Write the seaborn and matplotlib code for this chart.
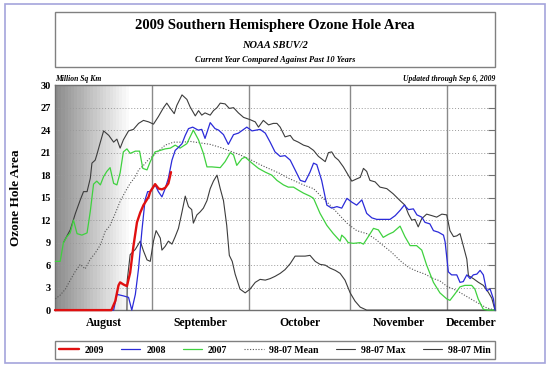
import numpy as np
import matplotlib
matplotlib.use("Agg")
import matplotlib.pyplot as plt
import seaborn as sns
from matplotlib.patches import Rectangle

# Eje x: dia contado desde el 1 de agosto (1 ago = 1, 1 sep = 32, ...)
dias_2009 = [2, 19.4, 20.6, 21.6, 22.1, 23.2, 24.2, 25.2, 26.2, 27.3, 28.3, 29.3, 30.9, 31.4,
             32.9, 34.0, 35.0, 36.0, 37.0, 37.8]
area_2009 = [0, 0, 1.2, 3.3, 3.7, 3.4, 3.2, 5.0, 8.5, 11.7, 13.0, 14.0, 15.1, 15.8,
             16.8, 16.2, 16.1, 16.3, 16.9, 18.4]

dias_2008 = [2, 20.1, 21.1, 23.1, 24.7, 25.7, 26.8, 27.8, 28.8, 29.8, 30.6, 31.4, 32.9, 33.9,
             35.0, 36.0, 37.0, 38.1, 39.1, 40.1, 41.2, 42.2, 43.2, 44.5, 46.2, 47.3, 48.3, 49.9,
             51.4, 52.5, 54.0, 55.5, 57.1, 58.6, 61.2, 62.8, 65.3, 66.9, 68.4, 69.9, 71.5, 73.0,
             74.6, 76.1, 77.7, 79.2, 80.7, 81.8, 82.8, 84.3, 85.9, 87.4, 89.0, 90.5, 92.1, 93.6,
             95.1, 96.7, 98.2, 99.8, 101.3, 103.3, 105.4, 107.0, 108.5, 109.8, 111.1, 112.6,
             113.7, 115.2, 116.2, 117.7, 118.8, 120.3, 121.9, 122.4, 123.4, 124.4, 126.0, 127.0,
             128.0, 129.1, 130.1, 131.1, 132.2, 133.2, 134.2, 135.2, 136.3, 137.3, 137.8]
area_2008 = [0, 0, 2.1, 1.9, 1.7, 0, 2.1, 5.6, 10.5, 14.7, 15.8, 15.8, 16.7, 15.8,
             15.1, 16.2, 17.6, 20.0, 21.3, 21.7, 22.2, 23.3, 24.2, 24.4, 24.0, 24.1, 22.9, 25.0,
             24.2, 24.0, 23.4, 22.1, 23.4, 23.6, 24.4, 23.9, 24.1, 23.6, 22.4, 21.1, 20.5, 20.6,
             20.0, 18.7, 17.3, 17.1, 18.4, 19.6, 19.4, 17.3, 14.0, 13.6, 13.8, 13.6, 14.9, 14.4,
             14.0, 14.7, 12.9, 12.3, 12.1, 12.1, 12.1, 12.6, 13.3, 14.0, 13.4, 13.5,
             12.7, 12.4, 11.7, 11.5, 10.6, 10.4, 10.0, 9.1, 5.1, 4.7, 4.7, 3.7,
             3.8, 4.7, 4.2, 4.7, 4.8, 5.3, 4.7, 2.6, 2.8, 1.5, 0]

dias_2007 = [2.1, 3.6, 4.6, 5.7, 6.7, 7.7, 8.8, 10.3, 11.9, 12.9, 13.9, 14.9, 16.0, 17.0,
             18.0, 19.0, 20.1, 21.1, 22.1, 23.1, 24.2, 25.2, 26.8, 28.1, 29.1, 30.4, 31.4, 32.9,
             34.5, 36.0, 37.6, 39.1, 40.6, 42.7, 44.7, 46.3, 47.8, 48.9, 50.4, 53.0, 54.5, 56.1,
             57.1, 58.1, 59.7, 60.7, 62.8, 64.8, 66.9, 68.9, 70.5, 71.5, 72.5, 74.0, 75.6, 77.1,
             78.7, 80.7, 81.8, 83.8, 85.9, 87.9, 90.0, 90.5, 91.5, 92.5, 94.1, 96.2, 97.2, 98.7,
             100.3, 101.8, 103.3, 104.9, 106.4, 108.5, 110.0, 111.6, 113.6, 115.2, 116.7, 118.8,
             120.8, 122.9, 123.9, 125.5, 127.0, 128.5, 130.6, 131.6, 132.6, 134.2, 135.6, 137.8]
area_2007 = [6.5, 6.5, 9.0, 9.8, 10.3, 12.0, 10.2, 10.0, 10.3, 13.2, 16.8, 17.2, 16.7, 17.8,
             18.5, 19.0, 16.9, 16.7, 18.3, 21.1, 21.5, 20.9, 21.2, 21.2, 18.9, 18.7, 19.8, 21.1,
             21.3, 21.5, 21.6, 22.0, 21.6, 22.2, 24.0, 22.7, 20.9, 19.1, 19.1, 19.0, 19.8, 21.0,
             20.7, 19.3, 20.2, 20.4, 19.6, 18.9, 18.4, 18.0, 17.3, 17.0, 16.7, 16.4, 16.4, 16.0,
             15.6, 15.2, 14.9, 12.9, 11.3, 10.2, 9.2, 10.0, 9.6, 9.0, 8.9, 9.0, 8.8, 9.8,
             10.9, 10.7, 9.7, 10.1, 10.4, 11.2, 9.8, 8.6, 8.6, 8.0, 6.0, 3.7,
             2.3, 1.5, 1.3, 2.2, 3.1, 3.3, 3.3, 2.8, 1.5, 0.1, 0, 0]

dias_media = [2.1, 3.6, 5.2, 6.7, 8.3, 9.8, 11.3, 12.9, 14.4, 16.0, 17.5, 19.0, 20.6, 22.1,
              23.7, 25.2, 26.8, 27.8, 29.3, 30.9, 32.9, 36.0, 38.6, 41.7, 43.7, 46.8, 49.9, 53.0,
              56.1, 59.1, 62.2, 65.3, 68.4, 71.5, 74.0, 76.6, 79.2, 81.8, 84.3, 86.9, 89.5, 92.1,
              95.1, 98.2, 100.8, 103.3, 105.9, 108.5, 111.1, 113.6, 116.2, 118.8, 120.8, 122.9,
              126.0, 131.1, 135.2, 137.8]
area_media = [1.5, 2.0, 2.8, 4.0, 5.2, 6.1, 5.5, 6.8, 7.6, 8.7, 10.5, 11.3, 12.9, 14.5,
              15.8, 16.9, 17.8, 18.7, 19.3, 20.1, 20.8, 22.0, 22.4, 22.4, 22.5, 22.3, 22.1, 21.7,
              21.2, 20.7, 20.1, 19.4, 18.8, 18.2, 17.6, 17.1, 16.6, 16.2, 15.1, 14.0, 12.8, 11.6,
              10.6, 10.2, 9.5, 8.6, 7.7, 6.6, 5.7, 5.2, 4.8, 4.2, 3.9, 3.2,
              2.6, 1.3, 0.3, 0]

dias_max = [4.6, 6.7, 8.3, 9.8, 10.8, 11.9, 12.9, 13.4, 14.4, 14.9, 16.0, 17.0, 18.6, 20.1,
            21.1, 22.1, 23.1, 24.7, 26.2, 27.8, 29.3, 30.9, 32.4, 33.9, 35.5, 36.5, 37.6, 38.8,
            39.6, 41.2, 42.7, 43.7, 45.3, 46.3, 47.3, 48.3, 49.9, 50.9, 52.0, 53.0, 54.5, 55.8,
            57.1, 58.6, 60.2, 62.2, 63.8, 64.8, 66.3, 67.9, 69.4, 70.5, 71.5, 73.0, 74.6, 75.6,
            77.1, 78.7, 80.2, 81.8, 83.3, 85.4, 86.4, 87.4, 88.4, 89.5, 91.0, 92.5, 93.6, 95.1,
            96.2, 97.2, 98.2, 99.2, 100.8, 102.3, 104.4, 106.4, 108.5, 110.0, 111.1, 112.1,
            113.1, 114.1, 115.2, 116.7, 118.3, 119.8, 121.4, 122.9, 123.9, 125.0, 126.0, 127.0,
            128.0, 129.1, 129.6, 131.1, 132.7, 134.2, 135.7, 136.8, 137.8]
area_max = [9.0, 10.7, 12.9, 14.7, 15.8, 15.8, 17.6, 19.6, 20.0, 20.7, 22.4, 23.9, 23.3, 22.4,
            22.8, 21.6, 22.7, 23.9, 24.1, 24.9, 25.3, 25.1, 24.8, 25.8, 27.0, 27.6, 26.9, 26.2,
            27.3, 28.7, 28.1, 27.1, 25.9, 26.6, 26.0, 26.3, 26.0, 26.6, 27.0, 27.6, 27.5, 26.9,
            27.0, 26.3, 25.7, 25.4, 25.1, 24.4, 25.3, 24.7, 24.9, 24.9, 24.4, 23.1, 23.3, 22.7,
            22.4, 22.0, 21.8, 21.3, 20.5, 19.8, 21.0, 21.1, 20.4, 20.0, 19.1, 18.0, 17.2, 17.5,
            17.7, 18.9, 18.5, 17.3, 17.1, 16.4, 16.2, 15.5, 14.6, 14.0, 12.8, 12.0,
            12.1, 11.1, 12.2, 12.8, 12.6, 12.4, 12.8, 12.7, 10.6, 9.8, 9.9, 10.2,
            8.6, 6.8, 4.6, 4.2, 3.7, 3.3, 2.4, 1.6, 0]

dias_min = [24.2, 24.3, 25.2, 26.8, 28.3, 29.3, 30.4, 31.4, 32.4, 33.2, 34.5, 35.0, 36.0, 37.0,
            38.1, 39.1, 40.1, 41.2, 42.2, 43.2, 44.2, 44.7, 45.8, 46.8, 47.8, 48.9, 49.9, 50.9,
            52.0, 53.0, 54.0, 55.0, 55.8, 56.7, 57.6, 59.1, 60.7, 62.2, 63.8, 65.3, 66.9, 68.4,
            69.9, 71.5, 73.0, 74.6, 76.1, 77.7, 79.2, 80.7, 82.3, 83.8, 85.4, 86.9, 88.5, 90.0,
            91.5, 93.1, 94.6, 96.2, 98.2, 137.8]
area_min = [0, 4.0, 7.4, 8.1, 9.2, 7.9, 6.7, 6.5, 9.2, 10.6, 9.6, 8.0, 8.5, 9.2,
            8.8, 9.8, 10.9, 13.1, 15.2, 13.8, 13.4, 11.6, 12.7, 13.1, 13.6, 14.6, 16.2, 17.2,
            18.0, 16.2, 14.6, 11.3, 7.3, 6.5, 4.8, 2.8, 2.3, 2.8, 3.7, 4.1, 4.0, 4.2,
            4.5, 4.9, 5.4, 6.2, 7.2, 7.2, 7.2, 7.3, 6.5, 6.1, 6.0, 5.6, 5.3, 4.9,
            4.0, 2.3, 1.2, 0.4, 0, 0]

meses = ["August", "September", "October", "November", "December"]
centro_meses = [17, 47, 77.5, 108, 130.4]
inicio_meses = [32, 62, 93, 123]
ticks_y = list(range(0, 31, 3))

sns.set_style("white")
plt.rcParams['font.family'] = ['Liberation Serif', 'DejaVu Serif']
plt.rcParams['text.color'] = 'black'
plt.rcParams['axes.labelcolor'] = 'black'

fig = plt.figure(figsize=(5.5, 3.67), dpi=100)
ax = fig.add_axes([0.1, 0.155, 0.8, 0.613])

# Fondo degradado de los primeros dias de agosto
grises = np.linspace(0.55, 1.0, 24).reshape(1, -1)
ax.imshow(grises, cmap='gray', vmin=0, vmax=1, aspect='auto', extent=(2, 25.5, 0, 30),
          interpolation='nearest', zorder=0)

for d in inicio_meses:
    ax.axvline(d, color='#8a8a8a', lw=1, zorder=1)

# (dias, valores, color, estilo, grosor, etiqueta)
series = [
    (dias_min, area_min, '#3c3c3c', '-', 0.8, '98-07 Min'),
    (dias_max, area_max, '#3c3c3c', '-', 0.8, '98-07 Max'),
    (dias_media, area_media, '#555555', (0, (1, 1.5)), 0.8, '98-07 Mean'),
    (dias_2007, area_2007, '#3fd13f', '-', 0.9, '2007'),
    (dias_2008, area_2008, '#2b2bd9', '-', 0.9, '2008'),
    (dias_2009, area_2009, '#e01010', '-', 1.7, '2009'),
]
for dias, vals, color, estilo, grosor, etiqueta in series:
    sns.lineplot(x=dias, y=vals, ax=ax, color=color, linestyle=estilo, lw=grosor,
                 label=etiqueta, sort=False, estimator=None, clip_on=False, zorder=3)

if ax.get_legend() is not None:
    ax.get_legend().remove()

ax.set_xlim(2, 137.8)
ax.set_ylim(0, 30)
ax.set_yticks(ticks_y)
ax.set_yticklabels([str(t) for t in ticks_y], fontweight='bold', fontsize=7.5)
ax.yaxis.grid(True, linestyle=(0, (1, 2)), color='#9a9a9a', lw=0.7)
ax.xaxis.grid(False)
ax.set_xticks(centro_meses)
ax.set_xticklabels(meses, fontweight='bold', fontsize=8.5)
ax.tick_params(axis='x', length=0, pad=5, labelcolor='black')
ax.tick_params(axis='y', left=False, right=True, direction='in', length=5,
               color='#707070', pad=3, labelcolor='black')
ax.set_xlabel('')
ax.set_ylabel('Ozone Hole Area', fontweight='bold', fontsize=9.5, labelpad=13)
for s in ax.spines.values():
    s.set_color('#707070')
    s.set_linewidth(1)

# Leyenda en orden inverso de dibujo
handles, labels = ax.get_legend_handles_labels()
orden = ['2009', '2008', '2007', '98-07 Mean', '98-07 Max', '98-07 Min']
mapa = dict(zip(labels, handles))
leg = fig.legend([mapa[k] for k in orden], orden, loc='lower left',
                 bbox_to_anchor=(0.1, 1 - 359 / 367, 0.8, 22 / 367), mode='expand', ncol=6,
                 fancybox=False, edgecolor='#808080', framealpha=1, borderaxespad=0,
                 prop=dict(weight='bold', size=7), handlelength=2.0, handletextpad=0.6,
                 borderpad=0.45)
leg.get_frame().set_linewidth(1)
for t in leg.get_texts():
    t.set_color('black')

# Caja del titulo
fig.patches.append(Rectangle((0.1, 1 - 67 / 367), 0.8, 55 / 367, transform=fig.transFigure,
                             fill=False, edgecolor='#808080', lw=1))
fig.text(0.5, 1 - 26 / 367, '2009 Southern Hemisphere Ozone Hole Area', ha='center',
         va='center', fontsize=10.5, fontweight='bold')
fig.text(0.5, 1 - 45 / 367, 'NOAA SBUV/2', ha='center', va='center', fontsize=7.5,
         fontweight='bold', style='italic')
fig.text(0.5, 1 - 59.5 / 367, 'Current Year Compared Against Past 10 Years', ha='center',
         va='center', fontsize=6, fontweight='bold', style='italic')
fig.text(0.1, 1 - 79 / 367, 'Million Sq Km', ha='left', va='center', fontsize=5.5,
         fontweight='bold', style='italic')
fig.text(0.9, 1 - 79 / 367, 'Updated through Sep 6, 2009', ha='right', va='center',
         fontsize=5.5, fontweight='bold', style='italic')

# Marco exterior
fig.patches.append(Rectangle((5 / 550, 1 - 363 / 367), 540 / 550, 359 / 367,
                             transform=fig.transFigure, fill=False, edgecolor='#a4a4dc',
                             lw=1.2))

fig.savefig('out.png', dpi=100)
